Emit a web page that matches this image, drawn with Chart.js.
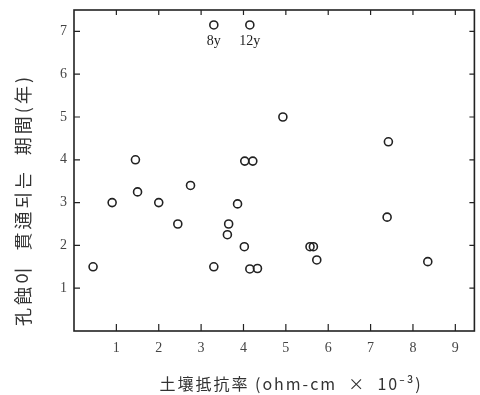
<!DOCTYPE html>
<html>
<head>
<meta charset="utf-8">
<script src="https://cdn.jsdelivr.net/npm/chart.js@4.4.1/dist/chart.umd.min.js"></script>
<style>
  html, body { margin: 0; padding: 0; background: #fff; }
  #wrap { width: 480px; height: 395px; }
</style>
</head>
<body>
<div id="wrap"><canvas id="chart" width="480" height="395"></canvas></div>
<script>
// soil resistivity (ohm-cm x 10^-3) vs. years until pitting perforates
const resistivity = [0.45, 0.9, 1.45, 1.5, 2.0, 2.45, 2.75, 3.3, 3.62, 3.65, 3.86, 4.02, 4.03, 4.22, 4.15, 4.33, 4.93, 5.57, 5.65, 5.73, 7.42, 7.39, 8.35];
const years = [1.5, 3.0, 4.0, 3.25, 3.0, 2.5, 3.4, 1.5, 2.25, 2.5, 2.97, 1.97, 3.97, 3.97, 1.45, 1.46, 5.0, 1.97, 1.97, 1.66, 4.42, 2.66, 1.62];

// off-scale points, plotted at the top with their real values written below
const outlierX = [3.3, 4.15];
const outlierY = [7.15, 7.15];
const outlierLabels = ['8y', '12y'];

const xTicks = [1, 2, 3, 4, 5, 6, 7, 8, 9];
const yTicks = [1, 2, 3, 4, 5, 6, 7];

const xTitle = '土壤抵抗率 (ohm-cm  ×  10⁻³)';
const yTitle = '孔蝕이  貫通되는  期間(年)';

const INK = '#222';
const CJK = '"Noto Sans CJK KR", "Noto Sans", sans-serif';
const numFont = { family: '"Liberation Serif", "DejaVu Serif", serif', size: 14 };

// frame, inward ticks on all four sides, axis titles, outlier labels
const framePlugin = {
    id: 'frame',
    afterDraw(chart) {
        const { ctx, chartArea: a, scales } = chart;
        ctx.save();
        ctx.strokeStyle = INK;
        ctx.lineWidth = 1.6;
        ctx.strokeRect(a.left, a.top, a.right - a.left, a.bottom - a.top);
        ctx.lineWidth = 1.2;
        ctx.beginPath();
        xTicks.forEach(v => {
            const px = scales.x.getPixelForValue(v);
            ctx.moveTo(px, a.bottom); ctx.lineTo(px, a.bottom - 7);
            ctx.moveTo(px, a.top); ctx.lineTo(px, a.top + 5);
        });
        yTicks.forEach(v => {
            const py = scales.y.getPixelForValue(v);
            ctx.moveTo(a.left, py); ctx.lineTo(a.left + 6, py);
            ctx.moveTo(a.right, py); ctx.lineTo(a.right - 5, py);
        });
        ctx.stroke();

        ctx.fillStyle = INK;
        ctx.font = '14px ' + numFont.family;
        ctx.textAlign = 'center';
        ctx.textBaseline = 'top';
        chart.getDatasetMeta(1).data.forEach((pt, i) => {
            ctx.fillText(outlierLabels[i], pt.x, pt.y + 9);
        });

        // axis titles (spaced out like the typeset original)
        ctx.fillStyle = '#333';
        ctx.textBaseline = 'middle';
        ctx.letterSpacing = '2px';
        ctx.font = '16px ' + CJK;
        ctx.textAlign = 'center';
        ctx.fillText(xTitle, 291, 384);

        ctx.save();
        ctx.translate(23, 326);
        ctx.rotate(-Math.PI / 2);
        ctx.textAlign = 'left';
        ctx.letterSpacing = '3px';
        ctx.font = '18px ' + CJK;
        ctx.fillText(yTitle, 0, 0);
        ctx.restore();
        ctx.restore();
    }
};

const pointStyle = {
    pointStyle: 'circle',
    pointRadius: 4,
    pointHoverRadius: 4,
    borderWidth: 1.6,
    borderColor: INK,
    backgroundColor: 'rgba(0,0,0,0)',
    showLine: false
};

new Chart(document.getElementById('chart'), {
    type: 'scatter',
    data: {
        datasets: [
            { data: resistivity.map((x, i) => ({ x, y: years[i] })), ...pointStyle },
            { data: outlierX.map((x, i) => ({ x, y: outlierY[i] })), ...pointStyle }
        ]
    },
    options: {
        responsive: false,
        animation: false,
        layout: { padding: { top: 10, right: 0, left: 1, bottom: 0 } },
        plugins: { legend: { display: false }, tooltip: { enabled: false } },
        scales: {
            x: {
                type: 'linear',
                min: 0,
                max: 9.45,
                afterFit: s => { s.height = 64; s.paddingLeft = 0; s.paddingRight = 0; },
                afterBuildTicks: s => { s.ticks = xTicks.map(v => ({ value: v })); },
                grid: { display: false, drawTicks: false },
                border: { display: false },
                ticks: { color: '#444', font: numFont, padding: 9 }
            },
            y: {
                type: 'linear',
                min: 0,
                max: 7.5,
                afterFit: s => { s.width = 73; s.paddingTop = 0; s.paddingBottom = 0; },
                afterBuildTicks: s => { s.ticks = yTicks.map(v => ({ value: v })); },
                grid: { display: false, drawTicks: false },
                border: { display: false },
                ticks: { color: '#444', font: numFont, padding: 7 }
            }
        }
    },
    plugins: [framePlugin]
});
</script>
</body>
</html>
